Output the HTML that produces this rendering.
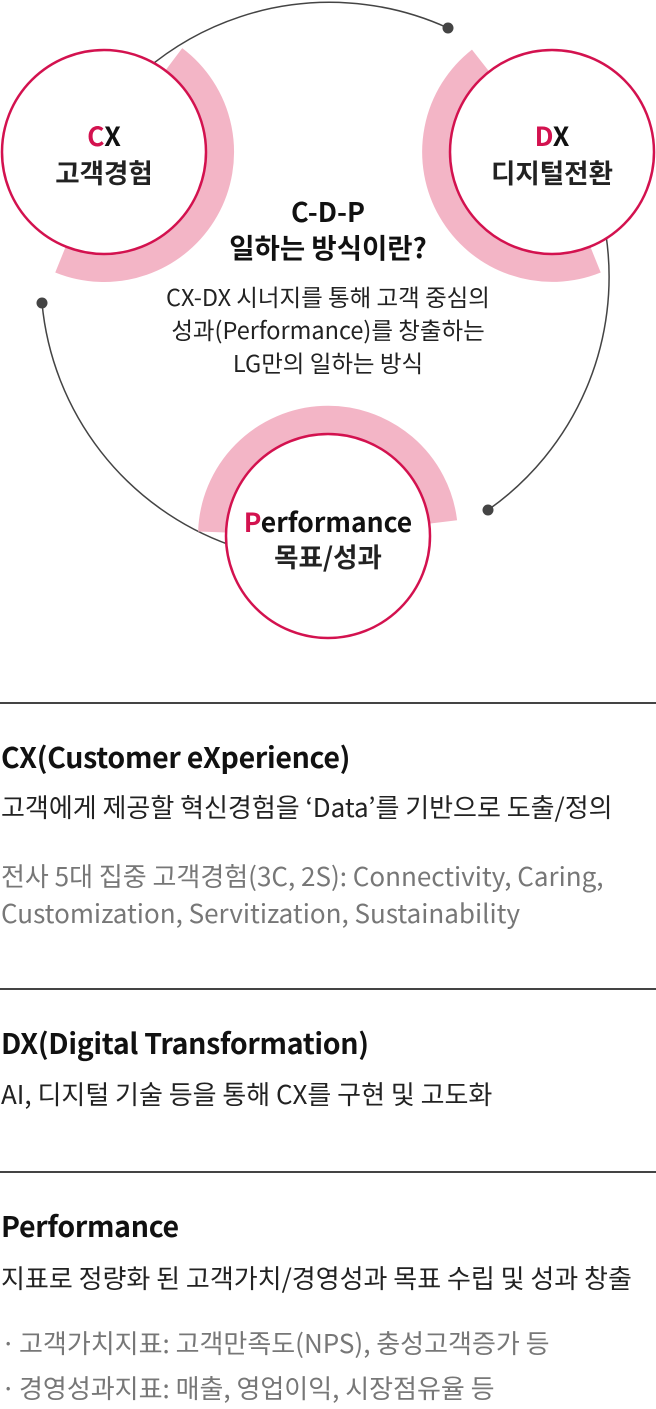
<!DOCTYPE html>
<html><head><meta charset="utf-8">
<style>
*{margin:0;padding:0;box-sizing:border-box}
body{width:656px;height:1409px;background:#fff;position:relative;overflow:hidden;font-family:"Noto Sans CJK KR","Liberation Sans",sans-serif;color:#111}
svg{position:absolute;left:0;top:0}
.t{position:absolute;white-space:nowrap;line-height:36px}
.c{text-align:center}
.r{color:#d3124f}
.hr{position:absolute;left:0;width:656px;height:2px;background:#444}
.h{font-size:28.5px;font-weight:bold;color:#111;left:1px;letter-spacing:-0.3px}
.b{font-size:26px;color:#222;left:1px}
.g{font-size:26px;color:#777;left:1px}
.d{font-size:26.5px;font-weight:bold}
</style></head><body>
<svg width="656" height="660" viewBox="0 0 656 660">
<g fill="none" stroke="#444" stroke-width="1.5">
<path d="M80 150 A285 285 0 0 1 448 28"/>
<path d="M606 235 A285 285 0 0 1 488 510"/>
<path d="M230 545 A285 285 0 0 1 42 303"/>
</g>
<g fill="#444"><circle cx="448" cy="28" r="5.5"/><circle cx="488" cy="510" r="5.5"/><circle cx="42" cy="303" r="5.5"/></g>
<g fill="none" stroke="#f3b5c6" stroke-width="28">
<path d="M173.8 59.3 A116 116 0 0 1 60.5 259.5"/>
<path d="M595.5 259.5 A116 116 0 0 1 480.6 60.6"/>
<path d="M212.1 532 A116 116 0 0 1 443.2 521.9"/>
</g>
<g fill="#fff" stroke="#d3124f" stroke-width="2.5">
<circle cx="104" cy="152" r="102"/>
<circle cx="552" cy="152" r="102"/>
<circle cx="328" cy="536" r="102"/>
</g>
</svg>
<div class="t c d" style="left:4px;width:200px;top:117px"><span class="r">C</span>X</div>
<div class="t c d" style="left:4px;width:200px;top:154px;color:#222">고객경험</div>
<div class="t c d" style="left:452px;width:200px;top:117px"><span class="r">D</span>X</div>
<div class="t c d" style="left:452px;width:200px;top:154px;color:#222">디지털전환</div>
<div class="t c d" style="left:178px;width:300px;top:503px"><span class="r">P</span>erformance</div>
<div class="t c d" style="left:228px;width:200px;top:538px;color:#222">목표/성과</div>
<div class="t c" style="left:128px;width:400px;top:193px;font-size:27px;font-weight:bold">C-D-P</div>
<div class="t c" style="left:128px;width:400px;top:228px;font-size:27.5px;font-weight:bold">일하는 방식이란?</div>
<div class="t c" style="left:28px;width:600px;top:280px;font-size:23.5px;line-height:33px;color:#222">CX-DX 시너지를 통해 고객 중심의<br>성과(Performance)를 창출하는<br>LG만의 일하는 방식</div>

<div class="hr" style="top:702px"></div>
<div class="t h" style="top:739px">CX(Customer eXperience)</div>
<div class="t b" style="top:789px">고객에게 제공할 혁신경험을 ‘Data’를 기반으로 도출/정의</div>
<div class="t g" style="top:857px;line-height:37px">전사 5대 집중 고객경험(3C, 2S): Connectivity, Caring,<br>Customization, Servitization, Sustainability</div>

<div class="hr" style="top:988px"></div>
<div class="t h" style="top:1025px">DX(Digital Transformation)</div>
<div class="t b" style="top:1076px">AI, 디지털 기술 등을 통해 CX를 구현 및 고도화</div>

<div class="hr" style="top:1171px"></div>
<div class="t h" style="top:1208px">Performance</div>
<div class="t b" style="top:1260px">지표로 정량화 된 고객가치/경영성과 목표 수립 및 성과 창출</div>
<div class="t g" style="top:1325px;font-size:26px"><span style="position:absolute;left:0">·</span><span style="margin-left:18px">고객가치지표: 고객만족도(NPS), 충성고객증가 등</span></div>
<div class="t g" style="top:1370px;font-size:26px"><span style="position:absolute;left:0">·</span><span style="margin-left:18px">경영성과지표: 매출, 영업이익, 시장점유율 등</span></div>
</body></html>
